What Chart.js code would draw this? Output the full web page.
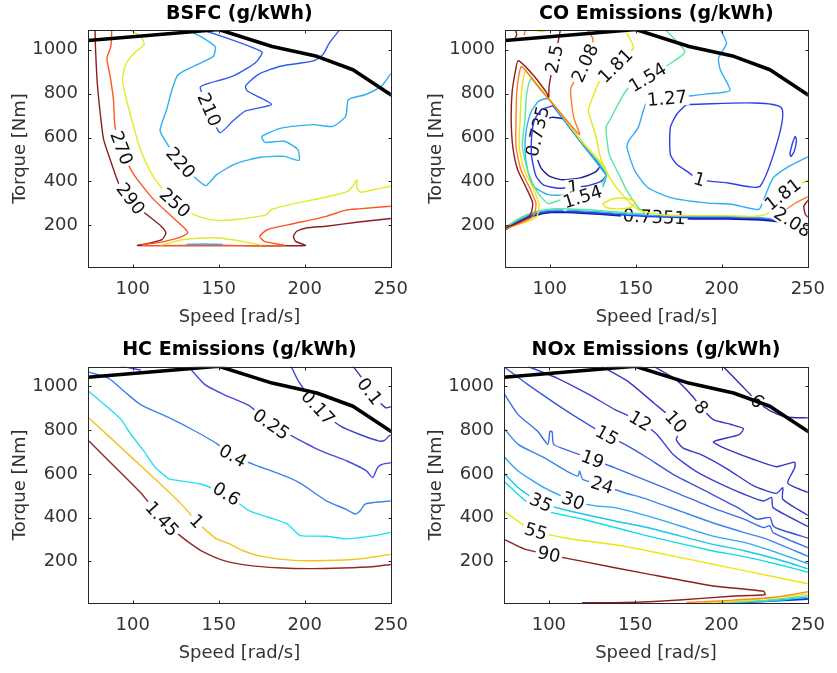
<!DOCTYPE html>
<html>
<head>
<meta charset="utf-8">
<title>Engine maps</title>
<script src="https://cdn.jsdelivr.net/npm/chart.js@4.4.1/dist/chart.umd.min.js"></script>
<style>
  body { margin: 0; background: #fff; }
  #page { position: relative; width: 837px; height: 673px; }
  .panel { position: absolute; }
</style>
</head>
<body>
<div id="page">
  <div class="panel" style="left:0;top:0;width:420px;height:335px"><canvas id="bsfcChart"></canvas></div>
  <div class="panel" style="left:420px;top:0;width:417px;height:335px"><canvas id="coChart"></canvas></div>
  <div class="panel" style="left:0;top:335px;width:420px;height:338px"><canvas id="hcChart"></canvas></div>
  <div class="panel" style="left:420px;top:335px;width:417px;height:338px"><canvas id="noxChart"></canvas></div>
</div>

<script>
Chart.defaults.font.family = '"DejaVu Sans", sans-serif';

// axes
const speedRange = [74, 250];
const torqueRange = [10, 1090];
const speedTicks = [100, 150, 200, 250];
const torqueTicks = [200, 400, 600, 800, 1000];

// full load torque curve
const fullLoadSpeed = [74, 150, 181, 207, 228, 250];
const fullLoadTorque = [1042, 1092, 1015, 970, 909, 795];

// ---- BSFC contours, [speed rad/s, torque Nm] ----
const bsfc210 = [[141,1090],[175.0,991],[171.3,941],[158.2,880],[142.2,842],[139.2,827],[144.3,727],[150.6,622],[158.2,675],[165.6,721],[180.7,751],[166.6,812],[165.6,835],[173.1,888],[186.3,926],[205,949],[210.6,979],[214.4,1032],[220,1088]];
const bsfc220 = [[131.9,1090],[139.4,1061],[147.8,1015],[146.9,970],[137.5,932],[126.3,886],[122.5,810],[119.7,727],[115.9,636],[117.8,600],[127.8,484],[142.2,381],[148.8,431],[160,481],[175,511],[188.1,514],[196.6,496],[196,545],[188.1,583],[176.9,578],[175,605],[186.3,643],[205,659],[216.3,651],[223.8,697],[225.3,772],[235,795],[244.4,833],[250,891]];
const bsfc220Low = [[131.5,113],[140,115],[152,113]];
const bsfc250 = [[98.1,1091],[104.7,1061],[106.6,1023],[100.9,985],[95.9,932],[94.0,863],[96.3,772],[100,666],[103.8,560],[108,480],[113.1,408],[124.4,302],[135.6,249],[145,226],[154.4,223],[167.5,234],[177.8,249],[180.6,272],[193.8,299],[212.5,329],[225,355],[227.8,378],[230.3,408],[230.3,370],[232.5,351],[240.6,363],[250,378]];
const bsfc250Low = [[116.5,110],[121,118],[129.6,135],[148.4,143],[163.4,127],[174.6,110]];
const bsfc270 = [[87.8,1091],[87.3,1015],[85.0,962],[86.9,879],[88.8,772],[89.7,651],[93.4,552],[100,439],[111.3,325],[122.5,241],[130,188],[131.9,165],[128.1,147],[118.8,127],[105.6,109],[150,108],[188.1,108],[176.6,127],[173.8,150],[178.5,181],[193.8,208],[212.5,241],[223.8,269],[231.3,275],[250,287]];
const bsfc290 = [[78.1,1091],[78.4,1000],[79.4,848],[81.3,697],[83.1,590],[86.9,499],[92.5,378],[98.7,320],[100,302],[109.4,241],[116.5,196],[119.3,165],[116.9,135],[107.5,115],[102.8,108],[150,108],[200.3,108],[194.7,127],[193.4,150],[195.3,173],[200.9,188],[212.5,196],[231.3,215],[250,231]];

// ---- CO contours ----
const co250 = [[106.2,1091],[105.1,1045],[102.8,957],[100.6,879],[99.6,830],[99.4,784],[98.1,806],[89.7,891],[81.7,950],[80.0,901],[78.1,803],[77.6,681],[78.5,560],[81.3,454],[86.4,370],[90.1,302],[88.8,249],[83.2,218],[73.8,187]];
const co250Top = [[80.0,1094],[80.8,1068],[79.6,1049]];
const co250Right = [[250.5,317],[247.7,287],[248.6,249],[250.5,234]];
const co208 = [[121.9,1091],[125.2,1045],[120.6,939],[112.5,830],[112.2,797],[114.0,690],[117.4,613],[104.7,727],[94.4,821],[83.7,924],[82.2,891],[80.8,803],[80.4,681],[80.4,560],[83.2,454],[88.4,370],[92.0,299],[90.7,244],[85.1,217],[74.2,185]];
const co208Top = [[86.0,1094],[85.1,1068]];
const co208Right = [[250.5,332],[243,302],[235.5,256],[241.1,214],[250.5,181]];
const co181 = [[143.9,1088],[148.6,1009],[138.3,926],[129.0,857],[123.4,751],[122.4,721],[127.1,599],[129.0,523],[131.8,463],[137.4,387],[142.1,341],[147.7,294],[153.3,265],[166.4,247],[185.0,244],[203.7,244],[220.6,241],[227.1,256],[228.0,287],[235.5,340],[243.0,378],[250.5,408]];
const co181Eye = [[74.6,187],[86.9,217],[92.5,241],[93.8,294],[90.3,370],[85.1,454],[82.2,560],[82.8,681],[83.4,795],[84.7,871],[86.0,901],[93.5,836],[104.7,727],[117.8,590],[132.3,465]];
const co181Island = [[130.8,299],[136.5,320],[143.9,323],[149.5,309],[147.7,284],[140.2,275],[132.7,281],[130.8,299]];
const co181Top = [[90.7,1091],[95.3,1083],[99.1,1091]];
const co154 = [[167.3,1091],[178.5,991],[169.2,933],[157.0,873],[144.9,819],[134.6,675],[132.7,645],[134.6,523],[140.2,432],[144.9,357],[151.4,281],[155.2,253],[138.3,262],[119.6,272],[100.9,275],[91.6,262],[82.2,232],[74.0,190]];
const co154Eye = [[89.3,871],[87.9,848],[86.4,787],[85.6,681],[84.1,560],[87.3,446],[92.5,355],[99.1,299],[106.5,317],[119.1,329],[128.0,370],[133.1,435],[117.8,590],[104.7,727],[93.5,830],[89.3,871]];
const co127 = [[199.1,1091],[202.8,1030],[198.1,962],[199.1,909],[204.7,815],[190.7,798],[178.5,787],[168.2,777],[157.0,772],[151.4,645],[145.8,584],[144.9,554],[149.5,448],[157.0,372],[170.1,326],[190.7,302],[205.6,296],[221.5,272],[224.3,317],[229.9,416],[237.4,461],[250.5,514]];
const co127Eye = [[133.1,426],[117.8,583],[104.7,719],[99.1,777],[93.5,765],[89.3,719],[86.4,636],[85.6,545],[87.1,454],[90.7,378],[99.1,340],[110.3,338],[123.4,350],[130.8,378],[133.1,426]];
const co127Band = [[73.8,190],[82.2,226],[91.6,256],[100.9,269],[110.3,269],[129.0,261],[147.7,250],[166.4,243],[185.0,240],[203.7,240],[222.4,235],[231.8,228],[241.1,212],[250.5,197]];
const co100 = [[179.4,751],[234.6,736],[222.4,379],[203.7,393],[186.9,408],[179.4,448],[173.8,478],[170.1,523],[170.1,645],[173.8,706],[179.4,751]];
const co100Eye = [[101.9,745],[95.3,727],[91.2,681],[89.5,605],[89.5,514],[92,425],[96.3,384],[104.7,369],[113.5,373],[122.4,381],[129.9,401],[132.7,431],[117.8,583],[101.9,745]];
const co100Band = [[73.8,185],[82.2,221],[91.6,251],[100.9,264],[110.3,264],[129.0,256],[147.7,245],[166.4,238],[185.0,235],[203.7,235],[222.4,230],[231.8,223],[241.1,207],[250.5,192]];
const co100Blob = [[241.1,575],[242.6,605],[243.4,590],[242.1,537],[240.2,514],[239.6,526],[241.1,575]];
const co0735Eye = [[107.9,686],[100.9,692],[95.3,669],[93,628],[92,560],[92.5,514],[95,461],[99.5,425],[106.5,408],[117.8,416],[126.2,441],[129.0,469],[121.5,545],[114.0,621],[107.9,686]];
const co0735Band = [[73.8,181],[82.2,217],[91.6,247],[100.9,260],[110.3,260],[129.0,252],[147.7,241],[160.8,237],[166.4,234],[185.0,231],[203.7,231],[222.4,226],[231.8,219],[241.1,203],[250.5,188]];

// ---- HC contours ----
const hc010 = [[228,1092],[233.2,1038],[237.6,977],[247,902],[250.8,909]];
const hc017 = [[192,1092],[196.4,1023],[207.6,902],[220.8,818],[232,780],[243.3,750],[246.3,753],[248.9,773],[250.8,780]];
const hc025 = [[132.6,1088],[142,1008],[155.1,955],[168.3,909],[180.4,826],[194.5,765],[209.5,705],[224.5,659],[235.8,614],[239.5,583],[242.3,629],[245.1,644],[250.8,652]];
const hc025Top = [[93.3,1092],[100,1082],[104.5,1075]];
const hc040 = [[74.5,1065],[85.8,1038],[95.1,977],[104.5,917],[121.4,856],[136.4,795],[149.5,735],[158.1,682],[170.1,644],[190.8,583],[198.3,553],[212.5,477],[223.8,439],[229.4,417],[232.2,432],[235,462],[240.6,470],[250,477]];
const hc060 = [[74.5,977],[85.8,902],[93.3,848],[99,780],[106.4,705],[113.1,629],[118.8,591],[121.4,576],[140.1,553],[145,538],[154.4,508],[167.5,432],[178.8,402],[190,371],[193.8,341],[197.5,318],[212.5,315],[223.8,303],[231.3,308],[240.6,318],[250,333]];
const hc100 = [[74.5,856],[100,671],[121.4,515],[130,447],[137.1,383],[145,326],[148.8,303],[156.3,280],[163.8,250],[175,223],[193.8,205],[212.5,204],[231.3,211],[250,232]];
const hc145 = [[74.5,750],[104.5,515],[116.9,394],[126.3,326],[133.8,280],[141.3,242],[152.5,205],[167.5,182],[184.4,171],[203.1,167],[221.9,170],[240.6,177],[250,186]];

// ---- NOx contours ----
const nox6 = [[200.9,1091],[211.2,1008],[220.6,932],[228.0,889],[237.4,860],[250.5,856]];
const nox8 = [[160.8,1091],[173.8,1030],[183.2,955],[188.2,904],[195.3,848],[205.6,826],[212.7,807],[210.3,780],[195.3,747],[200.0,724],[218.7,666],[231.8,633],[242.4,654],[242.4,628],[238.3,560],[243.0,537],[250.5,514]];
const nox10 = [[130.8,1091],[145.8,1023],[160.8,924],[173.5,838],[175.7,795],[173.8,757],[177.6,719],[188.8,686],[203.7,621],[218.7,545],[231.8,511],[235.5,537],[235.5,484],[250.5,408]];
const nox12 = [[87.9,1091],[104.7,1038],[123.4,962],[138.3,894],[152.9,841],[162.6,780],[172.0,689],[185.0,613],[200.0,552],[213.1,507],[224.3,476],[229.0,492],[229.9,446],[250.5,358]];
const nox15 = [[75.1,1083],[87.9,1008],[104.7,917],[119.6,841],[133.6,775],[145.8,727],[157.0,674],[172.0,598],[190.7,522],[209.4,446],[220.6,393],[228.0,401],[229.9,363],[233.6,347],[250.5,306]];
const nox19 = [[73.8,970],[82.2,871],[93.5,795],[99.4,735],[100.6,795],[101.9,792],[102.8,735],[112.2,704],[125.2,666],[138.3,628],[157.0,568],[175.7,508],[194.4,446],[213.1,393],[224.3,355],[228.0,363],[229.9,332],[250.5,261]];
const nox24 = [[73.8,810],[82.2,735],[97.2,674],[110.3,613],[116.8,590],[117.8,613],[119.6,575],[130.8,548],[143.9,514],[157.0,484],[175.7,431],[194.4,378],[213.1,332],[226.2,302],[250.5,222]];
const nox30 = [[73.8,681],[82.2,613],[97.2,537],[114.0,476],[127.1,454],[138.3,446],[157.0,408],[175.7,363],[194.4,317],[213.1,287],[231.8,241],[250.5,188]];
const nox35 = [[73.8,605],[82.2,537],[95.3,469],[110.3,434],[138.3,385],[157.0,355],[175.7,317],[194.4,279],[213.1,249],[231.8,211],[250.5,165]];
const nox45 = [[73.8,568],[91.6,446],[119.6,393],[157.0,317],[194.4,249],[213.1,222],[231.8,188],[250.5,150]];
const nox55 = [[73.8,431],[86.0,363],[92.5,337],[110.3,306],[138.3,276],[157.0,249],[194.4,188],[213.1,158],[250.5,97]];
const nox90 = [[73.8,302],[86.0,256],[100,231],[119.6,200],[157.0,143],[194.4,89],[224.3,64],[225.2,48],[205.6,41],[175.7,24],[143.9,12],[119.6,11]];
const noxLowA = [[180,12],[205,22],[230,36],[250.5,62]];
const noxLowB = [[190,12],[215,22],[250.5,52]];
const noxLowC = [[198,12],[225,22],[250.5,44]];
const noxLowD = [[205,12],[230,20],[250.5,37]];
const noxLowE = [[210,12],[250.5,28]];

// ---------------------------------------------------------------
function line(level, pts, color, labelAt, width) {
  return {
    label: level,
    data: pts.map(p => ({ x: p[0], y: p[1] })),
    borderColor: color,
    borderWidth: width || 1.4,
    showLine: true,
    labelAt: labelAt || []
  };
}

function fullLoad() {
  const pts = fullLoadSpeed.map((s, i) => [s, fullLoadTorque[i]]);
  const ds = line('', pts, '#000', [], 3.6);
  ds.tension = 0;
  return ds;
}

// box round the axes with inward ticks
const frame = {
  id: 'frame',
  afterDatasetsDraw(chart) {
    const { ctx, chartArea: a, scales } = chart;
    ctx.save();
    ctx.strokeStyle = '#262626';
    ctx.lineWidth = 1;
    const l = Math.round(a.left) + 0.5, t = Math.round(a.top) + 0.5;
    const r = Math.round(a.right) + 0.5, b = Math.round(a.bottom) + 0.5;
    ctx.strokeRect(l, t, r - l, b - t);
    ctx.beginPath();
    speedTicks.forEach(v => {
      const x = Math.round(scales.x.getPixelForValue(v)) + 0.5;
      ctx.moveTo(x, b); ctx.lineTo(x, b - 3);
      ctx.moveTo(x, t); ctx.lineTo(x, t + 3);
    });
    torqueTicks.forEach(v => {
      const y = Math.round(scales.y.getPixelForValue(v)) + 0.5;
      ctx.moveTo(l, y); ctx.lineTo(l + 3, y);
      ctx.moveTo(r, y); ctx.lineTo(r - 3, y);
    });
    ctx.stroke();
    ctx.restore();
  }
};

// inline level labels, rotated along the line
const contourLabels = {
  id: 'contourLabels',
  afterDatasetDraw(chart, args) {
    const ds = chart.data.datasets[args.index];
    if (!ds.labelAt || !ds.labelAt.length) return;
    const pts = args.meta.data;
    const { ctx, chartArea: a } = chart;
    ctx.save();
    ctx.beginPath();
    ctx.rect(a.left, a.top, a.right - a.left, a.bottom - a.top);
    ctx.clip();
    ctx.font = '18px "DejaVu Sans"';
    ctx.textAlign = 'center';
    ctx.textBaseline = 'middle';
    ds.labelAt.forEach(i => {
      const p = pts[i];
      const p0 = pts[Math.max(i - 1, 0)];
      const p1 = pts[Math.min(i + 1, pts.length - 1)];
      let ang = Math.atan2(p1.y - p0.y, p1.x - p0.x);
      if (ang > Math.PI / 2) ang -= Math.PI;
      if (ang < -Math.PI / 2) ang += Math.PI;
      ctx.save();
      ctx.translate(p.x, p.y);
      ctx.rotate(ang);
      const w = ctx.measureText(ds.label).width;
      ctx.fillStyle = '#fff';
      ctx.fillRect(-w / 2 - 2, -8, w + 4, 16);
      ctx.fillStyle = '#111';
      ctx.fillText(ds.label, 0, 1);
      ctx.restore();
    });
    ctx.restore();
  }
};

const tickFont = { size: 18 };
const plainNumber = v => String(v);

function engineMap(id, title, datasets, box) {
  return new Chart(document.getElementById(id), {
    type: 'scatter',
    data: { datasets: datasets },
    options: {
      responsive: true,
      maintainAspectRatio: false,
      animation: false,
      events: [],
      layout: { padding: { left: 0, right: box.right, top: 0, bottom: 0 } },
      elements: {
        point: { radius: 0, hoverRadius: 0 },
        line: { tension: 0.2, borderJoinStyle: 'round', borderCapStyle: 'round' }
      },
      datasets: { scatter: { clip: 0 } },
      plugins: {
        legend: { display: false },
        tooltip: { enabled: false },
        title: {
          display: true,
          text: title,
          fullSize: false,
          color: '#000',
          font: { size: 19, weight: 'bold' },
          padding: { top: box.titleTop, bottom: box.titleBottom }
        }
      },
      scales: {
        x: {
          type: 'linear',
          min: speedRange[0],
          max: speedRange[1],
          afterBuildTicks: s => { s.ticks = speedTicks.map(v => ({ value: v })); },
          afterFit: s => { s.height = box.xHeight; },
          grid: { display: false, drawTicks: false },
          border: { display: false },
          ticks: { color: '#333', font: tickFont, padding: 12, maxRotation: 0, autoSkip: false, callback: plainNumber },
          title: { display: true, text: 'Speed [rad/s]', color: '#333', font: tickFont, padding: { top: 0, bottom: box.xTitlePad } }
        },
        y: {
          type: 'linear',
          min: torqueRange[0],
          max: torqueRange[1],
          afterBuildTicks: s => { s.ticks = torqueTicks.map(v => ({ value: v })); },
          afterFit: s => { s.width = box.yWidth; },
          grid: { display: false, drawTicks: false },
          border: { display: false },
          ticks: { color: '#333', font: tickFont, padding: 10, autoSkip: false, callback: plainNumber },
          title: { display: true, text: 'Torque [Nm]', color: '#333', font: tickFont, padding: { top: box.yTitlePad, bottom: 0 } }
        }
      }
    },
    plugins: [contourLabels, frame]
  });
}

const topBox = { right: 19, xHeight: 68, yWidth: 88, titleTop: 3, titleBottom: 4.2, xTitlePad: 7, yTitlePad: 10 };
const topRightBox = { right: 17, xHeight: 68, yWidth: 85, titleTop: 3, titleBottom: 4.2, xTitlePad: 7, yTitlePad: 6 };
const lowBox = { right: 19, xHeight: 70, yWidth: 88, titleTop: 4, titleBottom: 4.9, xTitlePad: 9, yTitlePad: 10 };
const lowRightBox = { right: 17, xHeight: 70, yWidth: 84, titleTop: 4, titleBottom: 4.9, xTitlePad: 9, yTitlePad: 6 };

engineMap('bsfcChart', 'BSFC (g/kWh)', [
  fullLoad(),
  line('210', bsfc210, '#2D5CF0', [6]),
  line('220', bsfc220, '#2EAEF5', [10]),
  line('220', bsfc220Low, '#2EAEF5'),
  line('250', bsfc250, '#E2EA2A', [11]),
  line('250', bsfc250Low, '#E2EA2A'),
  line('270', bsfc270, '#FF5522', [6]),
  line('290', bsfc290, '#8E1E1E', [7])
], topBox);

engineMap('coChart', 'CO Emissions (g/kWh)', [
  fullLoad(),
  line('2.5', co250, '#8E1E1E', [2]),
  line('2.5', co250Top, '#8E1E1E'),
  line('2.5', co250Right, '#8E1E1E'),
  line('2.08', co208, '#FF7A22', [2]),
  line('2.08', co208Top, '#FF7A22'),
  line('2.08', co208Right, '#FF7A22', [3]),
  line('1.81', co181, '#E8E810', [2, 19]),
  line('1.81', co181Eye, '#E8E810'),
  line('1.81', co181Island, '#E8E810'),
  line('1.81', co181Top, '#E8E810'),
  line('1.54', co154, '#58E6A0', [3]),
  line('1.54', co154Eye, '#58E6A0', [9]),
  line('1.27', co127, '#2EAEF8', [7]),
  line('1.27', co127Eye, '#2EAEF8'),
  line('1', co100, '#2B3FE8', [4]),
  line('1', co100Eye, '#2B3FE8', [8]),
  line('1', co100Blob, '#2B3FE8'),
  line('1.27', co127Band, '#2EAEF8'),
  line('1', co100Band, '#2B3FE8', [], 1.8),
  line('0.735', co0735Eye, '#1A1AA0', [3]),
  line('0.7351', co0735Band, '#0E16A8', [7], 2.4)
], topRightBox);

engineMap('hcChart', 'HC Emissions (g/kWh)', [
  fullLoad(),
  line('0.1', hc010, '#3A30B0', [2]),
  line('0.17', hc017, '#4040D0', [2]),
  line('0.25', hc025, '#4848E4', [4]),
  line('0.25', hc025Top, '#4848E4'),
  line('0.4', hc040, '#3C82F0', [7]),
  line('0.6', hc060, '#22E0F2', [10]),
  line('1', hc100, '#F2C41C', [4]),
  line('1.45', hc145, '#962828', [2])
], lowBox);

engineMap('noxChart', 'NOx Emissions (g/kWh)', [
  fullLoad(),
  line('6', nox6, '#2E2EA8', [2]),
  line('8', nox8, '#3636C4', [3]),
  line('10', nox10, '#3838CE', [3]),
  line('12', nox12, '#3A40D8', [4]),
  line('15', nox15, '#3C55E0', [4]),
  line('19', nox19, '#3D6DE8', [8]),
  line('24', nox24, '#3A86EE', [7]),
  line('30', nox30, '#2AA8F2', [3]),
  line('35', nox35, '#18C8F0', [2]),
  line('45', nox45, '#10DDE6'),
  line('55', nox55, '#E8E810', [2]),
  line('90', nox90, '#8E2020', [2]),
  line('', noxLowA, '#FF8A20'),
  line('', noxLowB, '#E8E810'),
  line('', noxLowC, '#58E6A0'),
  line('', noxLowD, '#18C8F0'),
  line('', noxLowE, '#2030D0', [], 2)
], lowRightBox);
</script>
</body>
</html>
